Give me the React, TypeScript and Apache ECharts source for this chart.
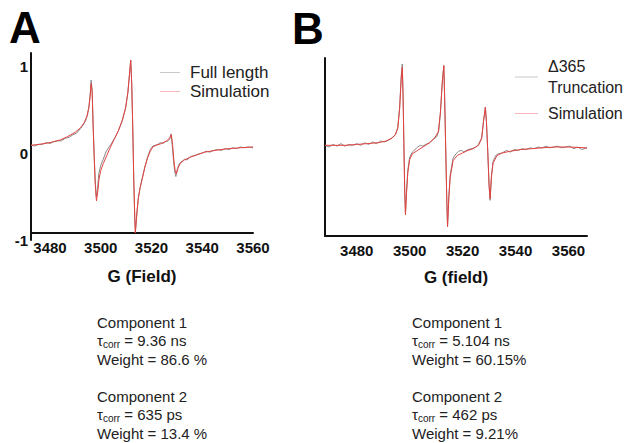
import React, { useEffect, useRef } from "react";
import * as echarts from "echarts";

// ---------- data ----------
const xTicks = [3480, 3500, 3520, 3540, 3560];
const yTicksA = [-1, 0, 1];

// Panel A: full length (experimental) and simulation, [field G, intensity]
const aFullLength: [number, number][] = [
  [3472.5, 0.09], [3474, 0.08], [3475.5, 0.1], [3477, 0.1], [3478.5, 0.12], [3480, 0.11],
  [3481.5, 0.13], [3483, 0.14], [3484.5, 0.14], [3486, 0.17], [3487.5, 0.18], [3489, 0.21],
  [3490.5, 0.23], [3492, 0.28], [3493, 0.32], [3494, 0.37], [3494.8, 0.44], [3495.4, 0.55],
  [3495.9, 0.7], [3496.2, 0.84], [3496.6, 0.72], [3497.0, 0.32], [3497.4, -0.02], [3497.8, -0.3],
  [3498.2, -0.5], [3498.7, -0.42], [3499.2, -0.24], [3500, -0.14], [3501, -0.07], [3502, 0.01],
  [3503, 0.06], [3504, 0.1], [3505.5, 0.17], [3507, 0.26], [3508.5, 0.37], [3509.8, 0.52],
  [3510.7, 0.7], [3511.3, 0.9], [3511.8, 1.06], [3512.2, 0.8], [3512.6, 0.3], [3513.0, -0.3],
  [3513.4, -0.75], [3513.7, -0.9], [3514.2, -0.7], [3514.8, -0.52], [3515.5, -0.4], [3516.4, -0.28],
  [3517.4, -0.16], [3518.4, -0.05], [3519.5, 0.04], [3520.5, 0.08], [3521.5, 0.09], [3522.5, 0.1],
  [3523.5, 0.12], [3524.5, 0.11], [3525.5, 0.13], [3526.5, 0.14], [3527.2, 0.16], [3527.7, 0.22],
  [3528.2, 0.08], [3528.7, -0.1], [3529.2, -0.22], [3529.6, -0.27], [3530.2, -0.18], [3531, -0.12],
  [3532, -0.1], [3533, -0.07], [3534, -0.08], [3535.5, -0.04], [3537, -0.03], [3538.5, -0.01],
  [3540, 0.0], [3541.5, 0.02], [3543, 0.01], [3544.5, 0.03], [3546, 0.04], [3547.5, 0.03],
  [3549, 0.05], [3550.5, 0.04], [3552, 0.06], [3553.5, 0.05], [3555, 0.07], [3556.5, 0.06],
  [3558, 0.07], [3560, 0.06],
];
const aSimulation: [number, number][] = [
  [3472.5, 0.09], [3476, 0.1], [3480, 0.12], [3484, 0.15], [3487, 0.19], [3490, 0.24],
  [3492, 0.29], [3493.5, 0.35], [3494.5, 0.42], [3495.3, 0.52], [3495.8, 0.65], [3496.2, 0.8],
  [3496.6, 0.7], [3497.0, 0.3], [3497.4, -0.05], [3497.8, -0.35], [3498.3, -0.55], [3498.8, -0.45],
  [3499.3, -0.3], [3500, -0.2], [3501, -0.12], [3502.5, -0.02], [3504, 0.08], [3505.5, 0.17],
  [3507, 0.26], [3508.5, 0.38], [3509.8, 0.52], [3510.7, 0.7], [3511.3, 0.9], [3511.8, 1.07],
  [3512.2, 0.8], [3512.6, 0.3], [3513.0, -0.3], [3513.4, -0.75], [3513.6, -0.92], [3514.2, -0.7],
  [3514.8, -0.52], [3515.5, -0.4], [3516.4, -0.29], [3517.4, -0.16], [3518.4, -0.06], [3519.5, 0.02],
  [3520.5, 0.07], [3522, 0.09], [3524, 0.11], [3526, 0.14], [3527.3, 0.18], [3527.8, 0.21],
  [3528.3, 0.1], [3528.8, -0.08], [3529.3, -0.2], [3529.8, -0.24], [3530.5, -0.17], [3531.5, -0.11],
  [3533, -0.08], [3535, -0.05], [3538, -0.02], [3541, 0.01], [3545, 0.03], [3550, 0.05],
  [3555, 0.06], [3560, 0.07],
];

// Panel B: Δ365 truncation (experimental) and simulation
const bTruncation: [number, number][] = [
  [3468, 0.02], [3469.5, 0.0], [3471, 0.03], [3472.5, 0.01], [3474, 0.04], [3475.5, 0.01],
  [3477, 0.03], [3478.5, 0.02], [3480, 0.04], [3481.5, 0.02], [3483, 0.05], [3484.5, 0.03],
  [3486, 0.06], [3487.5, 0.04], [3489, 0.07], [3490.5, 0.06], [3492, 0.08], [3493.5, 0.11],
  [3494.7, 0.15], [3495.5, 0.23], [3496.2, 0.47], [3496.8, 0.84], [3497.2, 0.98], [3497.5, 0.62],
  [3497.8, 0.05], [3498.1, -0.48], [3498.4, -0.78], [3498.8, -0.52], [3499.3, -0.27], [3500, -0.12],
  [3501, -0.06], [3502, -0.03], [3503, 0.0], [3504, 0.02], [3505, 0.01], [3506, 0.03],
  [3507.5, 0.05], [3509, 0.09], [3510.2, 0.12], [3511, 0.19], [3511.6, 0.4], [3512.3, 0.76],
  [3512.9, 0.96], [3513.2, 0.6], [3513.6, 0.0], [3514.0, -0.6], [3514.3, -0.93], [3514.8, -0.58],
  [3515.3, -0.33], [3516.4, -0.13], [3517.5, -0.08], [3518.5, -0.05], [3519.5, -0.04], [3520.5, -0.06],
  [3522, -0.03], [3523.5, -0.02], [3525, 0.0], [3526, 0.03], [3527.2, 0.11], [3527.9, 0.31],
  [3528.6, 0.47], [3529.0, 0.3], [3529.5, -0.05], [3530.0, -0.46], [3530.4, -0.63], [3530.9, -0.34],
  [3531.5, -0.17], [3532.5, -0.1], [3533.5, -0.08], [3535, -0.07], [3536.5, -0.04], [3538, -0.06],
  [3539.5, -0.03], [3541, -0.04], [3542.5, -0.02], [3544, -0.03], [3545.5, -0.01], [3547, -0.02],
  [3548.5, 0.0], [3550, -0.01], [3551.5, 0.01], [3553, -0.01], [3554.5, 0.0], [3556, 0.01],
  [3557.5, -0.01], [3559, 0.0], [3560.5, 0.01], [3562, -0.02], [3563.5, 0.0], [3565, -0.03],
  [3567, -0.01],
];
const bSimulation: [number, number][] = [
  [3468, 0.02], [3472, 0.02], [3476, 0.02], [3480, 0.03], [3484, 0.04], [3488, 0.05],
  [3491, 0.07], [3493, 0.1], [3494.5, 0.14], [3495.5, 0.22], [3496.2, 0.45], [3496.8, 0.8],
  [3497.2, 0.94], [3497.5, 0.6], [3497.8, 0.05], [3498.1, -0.5], [3498.4, -0.8], [3498.8, -0.55],
  [3499.3, -0.3], [3500, -0.15], [3501, -0.08], [3503, -0.04], [3505, 0.0], [3507.5, 0.05],
  [3509.5, 0.11], [3510.8, 0.18], [3511.6, 0.4], [3512.3, 0.75], [3512.9, 0.96], [3513.2, 0.6],
  [3513.6, 0.0], [3514.0, -0.6], [3514.3, -0.94], [3514.8, -0.6], [3515.3, -0.36], [3516.4, -0.16],
  [3518, -0.1], [3520, -0.07], [3522, -0.04], [3524, -0.02], [3526, 0.02], [3527.2, 0.1],
  [3527.9, 0.3], [3528.6, 0.47], [3529.0, 0.3], [3529.5, -0.05], [3530.0, -0.45], [3530.4, -0.61],
  [3530.9, -0.35], [3531.5, -0.19], [3533, -0.1], [3535, -0.07], [3538, -0.05], [3542, -0.03],
  [3546, -0.02], [3550, -0.01], [3555, 0.0], [3560, 0.0], [3567, -0.01],
];

const componentsA = [
  ["Component 1", "9.36 ns", "86.6 %"],
  ["Component 2", "635 ps", "13.4 %"],
];
const componentsB = [
  ["Component 1", "5.104 ns", "60.15%"],
  ["Component 2", "462 ps", "9.21%"],
];

const FONT = "'Liberation Sans', Arial, sans-serif";
const RED = "#e3423f";
const GRAY = "#8a8a8a";

function componentTexts(list: string[][], x: number, y0: number) {
  const out: any[] = [];
  list.forEach((c, i) => {
    const base = y0 + i * 74;
    out.push({
      type: "text", x, y: base,
      style: { text: c[0], font: `15px ${FONT}`, fill: "#222", verticalAlign: "middle" },
    });
    out.push({
      type: "text", x, y: base + 18.5,
      style: {
        text: `{t|τ}{s|corr}{t| = ${c[1]}}`,
        verticalAlign: "middle",
        rich: {
          t: { fontFamily: FONT, fontSize: 15, lineHeight: 18, fill: "#222", color: "#222" },
          s: { fontFamily: FONT, fontSize: 10, lineHeight: 10, verticalAlign: "bottom", fill: "#222", color: "#222" },
        },
      },
    });
    out.push({
      type: "text", x, y: base + 37,
      style: { text: `Weight = ${c[2]}`, font: `15px ${FONT}`, fill: "#222", verticalAlign: "middle" },
    });
  });
  return out;
}

export default function App() {
  const ref = useRef<HTMLDivElement>(null);
  useEffect(() => {
    if (!ref.current) return;
    const chart = echarts.init(ref.current, undefined, { renderer: "svg" });
    const axisLine = { show: true, onZero: false, lineStyle: { color: "#111", width: 2 } };
    const xLabel = {
      fontFamily: FONT, fontSize: 15, fontWeight: "bold", color: "#111", margin: 7,
      customValues: xTicks, formatter: (v: number) => String(v),
    };
    const nameStyle = { fontFamily: FONT, fontSize: 17, fontWeight: "bold", color: "#111" };
    chart.setOption({
      animation: false,
      backgroundColor: "#fff",
      grid: [
        { left: 31, top: 53, width: 222, height: 187 },
        { left: 325, top: 58, width: 262, height: 178 },
      ],
      xAxis: [
        {
          type: "value", gridIndex: 0, min: 3472.5, max: 3560, offset: -7,
          axisLine, axisTick: { show: false }, splitLine: { show: false },
          axisLabel: xLabel,
          name: "G (Field)", nameLocation: "middle", nameGap: 35, nameTextStyle: nameStyle,
        },
        {
          type: "value", gridIndex: 1, min: 3468, max: 3567,
          axisLine, axisTick: { show: false }, splitLine: { show: false },
          axisLabel: xLabel,
          name: "G (field)", nameLocation: "middle", nameGap: 33, nameTextStyle: nameStyle,
        },
      ],
      yAxis: [
        {
          type: "value", gridIndex: 0, min: -1, max: 1.15,
          axisLine, axisTick: { show: false }, splitLine: { show: false },
          axisLabel: { fontFamily: FONT, fontSize: 15, fontWeight: "bold", color: "#111", margin: 3, customValues: yTicksA },
        },
        {
          type: "value", gridIndex: 1, min: -1.05, max: 1.05,
          axisLine, axisTick: { show: false }, splitLine: { show: false },
          axisLabel: { show: false },
        },
      ],
      legend: [
        {
          orient: "vertical", left: 155, top: 58, itemGap: 0, itemWidth: 20, itemHeight: 1,
          textStyle: { fontFamily: FONT, fontSize: 17, color: "#222", lineHeight: 19, padding: [0, 0, 0, 5] },
          data: [
            { name: "Full length", icon: "rect", itemStyle: { color: "#c9c9c9" } },
            { name: "Simulation", icon: "rect", itemStyle: { color: "#f6b8b8" } },
          ],
          selectedMode: false,
        },
        {
          orient: "vertical", left: 510, top: 51, itemGap: 5, itemWidth: 23, itemHeight: 1,
          textStyle: { fontFamily: FONT, fontSize: 16, color: "#222", lineHeight: 21, padding: [0, 0, 0, 5] },
          data: [
            { name: "Δ365\nTruncation", icon: "rect", itemStyle: { color: "#c9c9c9" } },
            { name: "Simulation ", icon: "rect", itemStyle: { color: "#f6b8b8" } },
          ],
          selectedMode: false,
        },
      ],
      series: [
        { type: "line", name: "Full length", xAxisIndex: 0, yAxisIndex: 0, data: aFullLength, showSymbol: false, lineStyle: { color: GRAY, width: 1 }, itemStyle: { color: GRAY } },
        { type: "line", name: "Simulation", xAxisIndex: 0, yAxisIndex: 0, data: aSimulation, showSymbol: false, lineStyle: { color: RED, width: 1 }, itemStyle: { color: RED } },
        { type: "line", name: "Δ365\nTruncation", xAxisIndex: 1, yAxisIndex: 1, data: bTruncation, showSymbol: false, lineStyle: { color: GRAY, width: 1 }, itemStyle: { color: GRAY } },
        { type: "line", name: "Simulation ", xAxisIndex: 1, yAxisIndex: 1, data: bSimulation, showSymbol: false, lineStyle: { color: RED, width: 1 }, itemStyle: { color: RED } },
      ],
      graphic: [
        { type: "text", x: 9, y: 27, style: { text: "A", font: `bold 44px ${FONT}`, fill: "#000", verticalAlign: "middle" } },
        { type: "text", x: 292, y: 28, style: { text: "B", font: `bold 44px ${FONT}`, fill: "#000", verticalAlign: "middle" } },
        ...componentTexts(componentsA, 97, 322),
        ...componentTexts(componentsB, 412, 322),
      ],
    });
    return () => chart.dispose();
  }, []);
  return <div ref={ref} style={{ position: "absolute", left: 0, top: 0, width: 627, height: 443, background: "#fff" }} />;
}
